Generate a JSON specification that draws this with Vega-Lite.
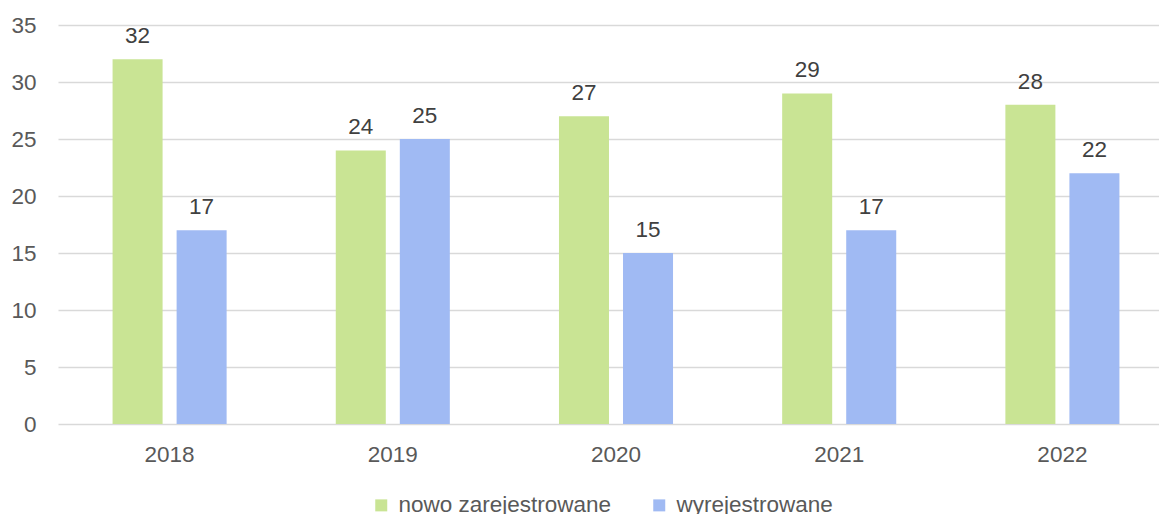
{
  "$schema": "https://vega.github.io/schema/vega-lite/v6.json",
  "width": 1101,
  "height": 399,
  "autosize": {"type": "none"},
  "padding": {"left": 58, "top": 25, "right": 0, "bottom": 90},
  "config": {
    "font": "Liberation Sans",
    "view": {"stroke": null},
    "axis": {"labelFont": "Liberation Sans", "labelFontSize": 22.5, "labelColor": "#595959"},
    "legend": {"labelFont": "Liberation Sans"}
  },
  "data": {
    "values": [
      {"year": "2018", "series": "nowo zarejestrowane", "value": 32},
      {"year": "2018", "series": "wyrejestrowane", "value": 17},
      {"year": "2019", "series": "nowo zarejestrowane", "value": 24},
      {"year": "2019", "series": "wyrejestrowane", "value": 25},
      {"year": "2020", "series": "nowo zarejestrowane", "value": 27},
      {"year": "2020", "series": "wyrejestrowane", "value": 15},
      {"year": "2021", "series": "nowo zarejestrowane", "value": 29},
      {"year": "2021", "series": "wyrejestrowane", "value": 17},
      {"year": "2022", "series": "nowo zarejestrowane", "value": 28},
      {"year": "2022", "series": "wyrejestrowane", "value": 22}
    ]
  },
  "encoding": {
    "x": {
      "field": "year", "type": "nominal", "title": null,
      "scale": {"range": [0, 1116], "paddingInner": 0.489, "paddingOuter": 0.2445},
      "axis": {"labelAngle": 0, "domain": false, "ticks": false, "labelPadding": 19}
    },
    "xOffset": {
      "field": "series", "type": "nominal",
      "scale": {"paddingInner": 0.219, "paddingOuter": 0}
    },
    "y": {
      "field": "value", "type": "quantitative", "title": null,
      "scale": {"domain": [0, 35], "nice": false},
      "axis": {"values": [0, 5, 10, 15, 20, 25, 30, 35], "domain": false, "ticks": false, "labelPadding": 22, "gridColor": "#d9d9d9", "gridWidth": 1.5, "labelBaseline": "middle"}
    }
  },
  "layer": [
    {
      "mark": {"type": "bar"},
      "encoding": {
        "color": {
          "field": "series", "type": "nominal", "title": null,
          "scale": {"domain": ["nowo zarejestrowane", "wyrejestrowane"], "range": ["#C9E494", "#A0BAF3"]},
          "legend": {
            "orient": "none", "direction": "horizontal", "legendX": 312, "legendY": 469,
            "symbolType": "square", "symbolSize": 144, "symbolStrokeWidth": 0,
            "labelFontSize": 22.5, "labelColor": "#595959", "columnPadding": 36, "padding": 0, "labelOffset": 6, "labelLimit": 0
          }
        }
      }
    },
    {
      "mark": {"type": "text", "baseline": "alphabetic", "dy": -16, "fontSize": 22.5, "color": "#404040", "font": "Liberation Sans"},
      "encoding": {"text": {"field": "value", "type": "quantitative"}}
    }
  ]
}
